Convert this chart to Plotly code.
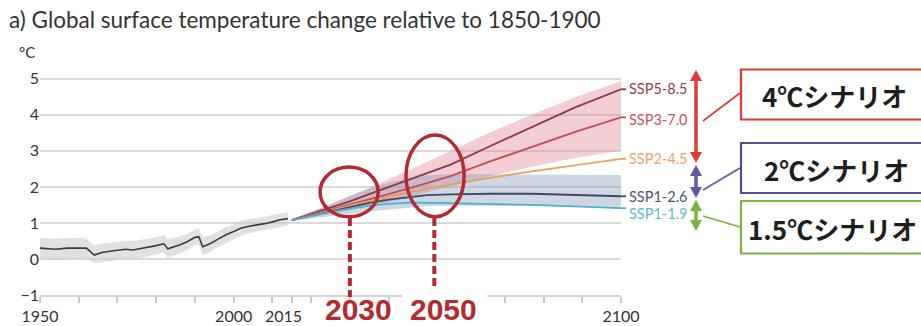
import plotly.graph_objects as go

# ---------------- data ----------------
hist_years = [1950, 1954, 1957, 1961, 1962, 1964, 1966, 1969, 1972, 1974, 1977, 1980, 1982,
              1983, 1986, 1988, 1990, 1991, 1992, 1994, 1996, 1998, 2000, 2002, 2004, 2006,
              2008, 2010, 2012, 2014]
hist_mean = [0.30, 0.27, 0.30, 0.31, 0.30, 0.11, 0.18, 0.23, 0.27, 0.25, 0.30, 0.37, 0.42,
             0.28, 0.39, 0.48, 0.60, 0.62, 0.34, 0.43, 0.55, 0.67, 0.76, 0.86, 0.91, 0.94,
             0.98, 1.03, 1.09, 1.12]
hist_high = [0.58, 0.56, 0.58, 0.58, 0.55, 0.38, 0.42, 0.46, 0.50, 0.50, 0.54, 0.60, 0.66,
             0.55, 0.62, 0.70, 0.82, 0.86, 0.60, 0.66, 0.76, 0.88, 0.96, 1.06, 1.10, 1.14,
             1.18, 1.23, 1.28, 1.30]
hist_low = [0.00, -0.02, 0.00, 0.02, 0.03, -0.12, -0.10, -0.05, 0.00, 0.00, 0.05, 0.12, 0.18,
            0.02, 0.15, 0.25, 0.38, 0.40, 0.10, 0.20, 0.33, 0.45, 0.55, 0.65, 0.72, 0.76,
            0.80, 0.85, 0.90, 0.93]

proj_years = [2015, 2020, 2025, 2030, 2035, 2040, 2045, 2050, 2056, 2066, 2077, 2088, 2100]
ssp585 = [1.08, 1.25, 1.42, 1.60, 1.80, 2.00, 2.20, 2.38, 2.62, 3.12, 3.67, 4.20, 4.71]
ssp370 = [1.08, 1.22, 1.36, 1.50, 1.65, 1.80, 1.95, 2.10, 2.30, 2.70, 3.12, 3.52, 3.93]
ssp245 = [1.08, 1.22, 1.35, 1.48, 1.60, 1.73, 1.85, 1.95, 2.06, 2.25, 2.43, 2.60, 2.78]
ssp126 = [1.08, 1.20, 1.33, 1.45, 1.56, 1.65, 1.72, 1.77, 1.79, 1.81, 1.81, 1.78, 1.74]
ssp119 = [1.08, 1.20, 1.30, 1.40, 1.48, 1.53, 1.56, 1.56, 1.55, 1.53, 1.50, 1.46, 1.41]

ssp370_high = [1.10, 1.30, 1.52, 1.75, 1.98, 2.20, 2.45, 2.70, 3.00, 3.50, 4.00, 4.48, 4.93]
ssp370_low = [1.06, 1.15, 1.25, 1.35, 1.45, 1.57, 1.70, 1.85, 2.02, 2.30, 2.56, 2.80, 3.00]
ssp126_high = [1.10, 1.30, 1.52, 1.75, 1.95, 2.12, 2.25, 2.32, 2.35, 2.35, 2.35, 2.34, 2.33]
ssp126_low = [1.06, 1.13, 1.20, 1.27, 1.32, 1.37, 1.42, 1.46, 1.48, 1.48, 1.47, 1.46, 1.44]

scenario_names = ["SSP5-8.5", "SSP3-7.0", "SSP2-4.5", "SSP1-2.6", "SSP1-1.9"]
scenario_values = [ssp585, ssp370, ssp245, ssp126, ssp119]
line_colors = ["#913845", "#c84a54", "#ee9e5c", "#3e4968", "#4db2cc"]
label_colors = ["#93404d", "#c9545e", "#eca36b", "#4a5572", "#5fb9d1"]
label_values = [4.74, 3.88, 2.78, 1.73, 1.27]

x_tick_years = [1950, 1960, 1970, 1980, 1990, 2000, 2010, 2015, 2020, 2030, 2040, 2050,
                2060, 2070, 2080, 2090, 2100]
x_tick_text = ["1950", "", "", "", "", "2000", "", "2015\u00a0\u00a0\u00a0\u00a0", "", "", "",
               "", "", "", "", "", "2100"]
y_ticks = [-1, 0, 1, 2, 3, 4, 5]

marker_years = ["2030", "2050"]
scenario_groups = ["4℃シナリオ", "2℃シナリオ", "1.5℃シナリオ"]

# ---------------- geometry helpers ----------------
W, H = 921, 326
L, R, T, B = 40, 300, 68, 31
PW, PH = W - L - R, H - T - B


def px(x):
    return (x - L) / PW


def py(y):
    return (H - B - y) / PH


fig = go.Figure()

# historical band and mean
fig.add_trace(go.Scatter(x=hist_years, y=hist_high, mode="lines", line=dict(width=0),
                         hoverinfo="skip", showlegend=False))
fig.add_trace(go.Scatter(x=hist_years, y=hist_low, mode="lines", line=dict(width=0),
                         fill="tonexty", fillcolor="rgba(205,205,205,0.6)",
                         hoverinfo="skip", showlegend=False))
fig.add_trace(go.Scatter(x=hist_years, y=hist_mean, mode="lines",
                         line=dict(color="#3b3b3b", width=1.6), showlegend=False))

# projection ranges
fig.add_trace(go.Scatter(x=proj_years, y=ssp370_high, mode="lines", line=dict(width=0),
                         hoverinfo="skip", showlegend=False))
fig.add_trace(go.Scatter(x=proj_years, y=ssp370_low, mode="lines", line=dict(width=0),
                         fill="tonexty", fillcolor="rgba(226,125,145,0.38)",
                         hoverinfo="skip", showlegend=False))
fig.add_trace(go.Scatter(x=proj_years, y=ssp126_high, mode="lines", line=dict(width=0),
                         hoverinfo="skip", showlegend=False))
fig.add_trace(go.Scatter(x=proj_years, y=ssp126_low, mode="lines", line=dict(width=0),
                         fill="tonexty", fillcolor="rgba(130,150,185,0.38)",
                         hoverinfo="skip", showlegend=False))

# scenario lines
for name, vals, col in zip(scenario_names, scenario_values, line_colors):
    fig.add_trace(go.Scatter(x=proj_years, y=vals, mode="lines", name=name,
                             line=dict(color=col, width=1.8), showlegend=False))

shapes = []
annotations = []

# scenario labels with short leader ticks
for name, vals, col, lcol, lv in zip(scenario_names, scenario_values, line_colors,
                                      label_colors, label_values):
    shapes.append(dict(type="line", xref="paper", yref="y", x0=1.0, x1=px(626),
                       y0=vals[-1], y1=vals[-1], line=dict(color=col, width=1.8)))
    annotations.append(dict(text=name, xref="paper", yref="y", x=px(627), y=lv,
                            xanchor="left", yanchor="middle", showarrow=False,
                            font=dict(family="Lato", size=14.5, color=lcol)))

# highlight ellipses and dashed drop lines
RED = "#b52a30"
ellipses = [(2022.3, 2037.3, 1.17, 2.55), (2044.5, 2059.5, 1.17, 3.44)]
drop_x = [2030, 2051.8]
drop_bottom = [297, 288]
for (x0, x1, y0, y1), dx, db in zip(ellipses, drop_x, drop_bottom):
    shapes.append(dict(type="circle", xref="x", yref="y", x0=x0, x1=x1, y0=y0, y1=y1,
                       line=dict(color=RED, width=3.5), layer="above"))
    shapes.append(dict(type="line", xref="x", yref="paper", x0=dx, x1=dx,
                       y0=py(218), y1=py(db), layer="above",
                       line=dict(color=RED, width=4, dash="8px,4px")))

# white patch behind the 2050 label
shapes.append(dict(type="rect", xref="paper", yref="paper", x0=px(402), x1=px(487),
                   y0=py(290), y1=py(330), fillcolor="white", line=dict(width=0),
                   layer="above"))

for txt, cx in zip(marker_years, [358, 443]):
    annotations.append(dict(text=f"<b>{txt}</b>", xref="paper", yref="paper", x=px(cx),
                            y=py(309), xanchor="center", yanchor="middle",
                            showarrow=False,
                            font=dict(family="Liberation Sans", size=30, color=RED)))


# double-headed scenario arrows
def double_arrow(x, ytop, ybot, color, hh=11, hw=6):
    shapes.append(dict(type="line", xref="paper", yref="paper", x0=px(x), x1=px(x),
                       y0=py(ytop + hh - 1), y1=py(ybot - hh + 1),
                       line=dict(color=color, width=3.5)))
    for tip, base in ((ytop, ytop + hh), (ybot, ybot - hh)):
        path = (f"M {px(x)} {py(tip)} L {px(x - hw)} {py(base)} "
                f"L {px(x + hw)} {py(base)} Z")
        shapes.append(dict(type="path", xref="paper", yref="paper", path=path,
                           fillcolor=color, line=dict(width=0)))


ARROW_RED = "#e03a32"
PURPLE = "#6655a3"
GREEN = "#7db343"
double_arrow(696, 70, 163, ARROW_RED)
double_arrow(696, 165, 198, PURPLE)
double_arrow(696, 200, 231, GREEN)

# connectors from arrows to boxes
for (x0, y0, x1, y1), col in zip([(703, 121, 740, 93), (703, 190, 740, 168),
                                  (703, 216, 740, 227)], [ARROW_RED, PURPLE, GREEN]):
    shapes.append(dict(type="line", xref="paper", yref="paper", x0=px(x0), y0=py(y0),
                       x1=px(x1), y1=py(y1), line=dict(color=col, width=1.6)))

# scenario boxes
box_color = [ARROW_RED, "#5b4a98", GREEN]
box_y = [(69.5, 119.5), (143, 193), (201, 253.5)]
text_cx = [834, 836, 832]
for txt, col, (yt, yb), cx in zip(scenario_groups, box_color, box_y, text_cx):
    shapes.append(dict(type="rect", xref="paper", yref="paper", x0=px(741), x1=px(935),
                       y0=py(yt), y1=py(yb), line=dict(color=col, width=2.2),
                       fillcolor="white"))
    annotations.append(dict(text=f"<b>{txt}</b>", xref="paper", yref="paper", x=px(cx),
                            y=py((yt + yb) / 2 + 1), xanchor="center", yanchor="middle",
                            showarrow=False,
                            font=dict(family="Noto Sans CJK JP", size=26, color="#1e1e1e")))

# title and unit
annotations.append(dict(text="a) Global surface temperature change relative to 1850-1900",
                        xref="paper", yref="paper", x=px(7), y=py(20), xanchor="left",
                        yanchor="middle", showarrow=False,
                        font=dict(family="Lato", size=22.5, color="#333333")))
annotations.append(dict(text="°C", xref="paper", yref="paper", x=px(17), y=py(52),
                        xanchor="left", yanchor="middle", showarrow=False,
                        font=dict(family="Lato", size=15, color="#333333")))

fig.update_layout(
    width=W, height=H,
    margin=dict(l=L, r=R, t=T, b=B, pad=0, autoexpand=False),
    paper_bgcolor="white", plot_bgcolor="white",
    font=dict(family="Lato", color="#333333"),
    shapes=shapes, annotations=annotations,
    showlegend=False,
    xaxis=dict(range=[1950, 2100], tickmode="array", tickvals=x_tick_years,
               ticktext=x_tick_text, ticks="outside", ticklen=6, tickwidth=1.5,
               tickcolor="#c9c9c9", showgrid=False, zeroline=False, showline=True,
               linecolor="#d6d6d6", linewidth=1.5, tickfont=dict(size=16, color="#333333"),
               automargin=False, fixedrange=True),
    yaxis=dict(range=[-1, 5.3], tickmode="array", tickvals=y_ticks, showgrid=True,
               gridcolor="#dadada", gridwidth=1.5, zeroline=False, showline=False,
               ticks="", tickfont=dict(size=16, color="#333333"), automargin=False,
               fixedrange=True),
)

fig.write_html("out.html")
